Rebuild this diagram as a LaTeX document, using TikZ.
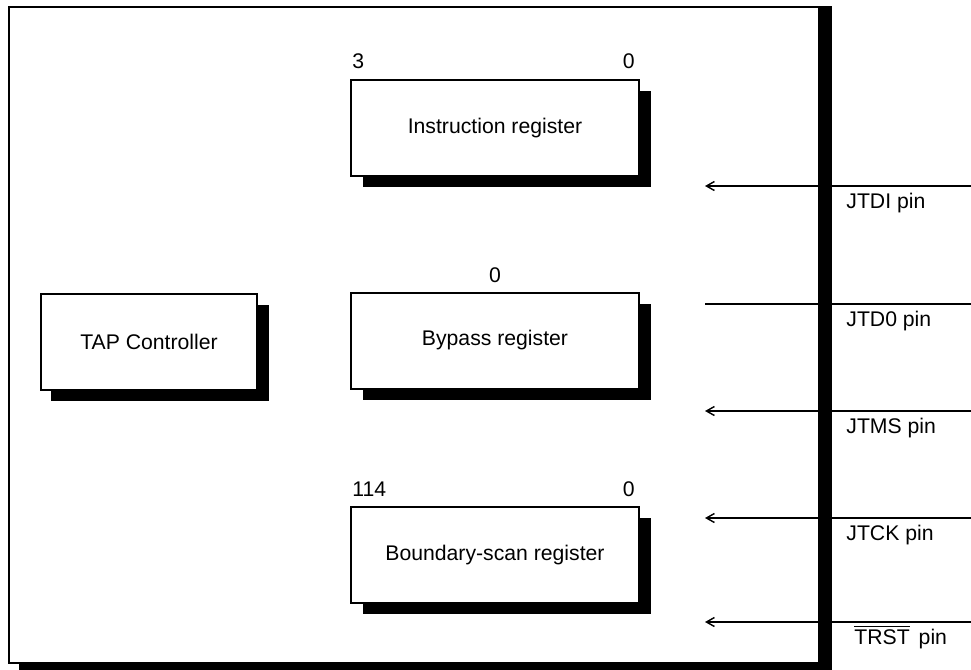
\documentclass[tikz,border=0pt]{standalone}
\usepackage{fontspec}
\setmainfont{Liberation Sans}
\usetikzlibrary{arrows.meta,shadows}
\definecolor{Ink}{HTML}{000000}
\tikzset{>={Straight Barb[length=4pt,width=4.5pt]},
 every node/.style={font=\fontsize{10.6}{12}\selectfont,text=Ink},
 reg/.style={draw=Ink,line width=1pt,fill=white,minimum width=144pt,minimum height=48pt,
  drop shadow={shadow xshift=6pt,shadow yshift=-5.5pt,fill=Ink,opacity=1}},
 tapbox/.style={reg,minimum width=108pt,drop shadow={shadow xshift=5pt,shadow yshift=-5.5pt,fill=Ink,opacity=1}},
 pinline/.style={line width=.7pt,draw=Ink},
 bit/.style={inner sep=0pt},
 pinlab/.style={anchor=base west,inner sep=0pt},
 }

\begin{document}
\begin{tikzpicture}[x=.5pt,y=-.5pt]
 \useasboundingbox (0,0) rectangle (971,670);
 % chip outline
 \draw[line width=1pt,Ink] (9,7) rectangle (819,663);
 % pins
 \foreach \n/\y/\t/\tip in {tdi/186/{JTDI pin}/->,tdo/304/{JTD0 pin}/-,tms/411/{JTMS pin}/->,
  tck/518/{JTCK pin}/->,trst/622/{\hspace{4pt}$\overline{\hbox{TRST}}$\hspace{4.5pt}pin}/->}{
  \coordinate (pin-\n) at (971,\y);
  \coordinate (in-\n) at (705,\y);
  \draw[pinline,\tip] (pin-\n) -- (in-\n);
  \node[pinlab] (lab-\n) at (846,\y+22) {\t};
 }
 \fill[Ink] (819,6) rectangle (832,670);
 \fill[Ink] (19,663) rectangle (832,670);
 % registers
 \node[reg] (ir) at (495,128) {Instruction register};
 \node[reg] (byp) at (495,340.5) {Bypass register};
 \node[reg] (bsr) at (495,555) {Boundary-scan register};
 \node[tapbox] (tap) at (149,341.5) {TAP Controller};
 % bit numbers
 \node[bit,anchor=base west] (ir-msb) at ([xshift=1pt,yshift=5.5pt]ir.north west) {3};
 \node[bit,anchor=base east] (ir-lsb) at ([xshift=-2.5pt,yshift=5.5pt]ir.north east) {0};
 \node[bit,anchor=base] (byp-lsb) at ([yshift=4.5pt]byp.north) {0};
 \node[bit,anchor=base west] (bsr-msb) at ([xshift=1pt,yshift=5pt]bsr.north west) {114};
 \node[bit,anchor=base east] (bsr-lsb) at ([xshift=-2.5pt,yshift=5pt]bsr.north east) {0};
\end{tikzpicture}
\end{document}
